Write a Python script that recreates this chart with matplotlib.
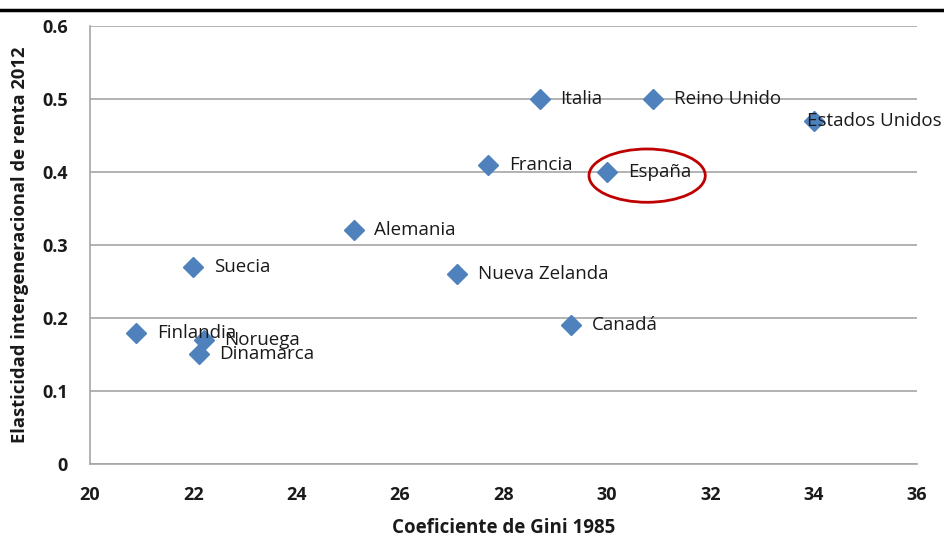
import matplotlib.pyplot as plt
from matplotlib.patches import Ellipse
from matplotlib.lines import Line2D

# Datos: coeficiente de Gini 1985 vs elasticidad intergeneracional de renta 2012
countries = ["Finlandia", "Noruega", "Dinamarca", "Suecia", "Alemania",
             "Nueva Zelanda", "Francia", "Italia", "Reino Unido", "España",
             "Canadá", "Estados Unidos"]
gini_1985 = [20.9, 22.2, 22.1, 22.0, 25.1, 27.1, 27.7, 28.7, 30.9, 30.0, 29.3, 34.0]
elasticity = [0.18, 0.17, 0.15, 0.27, 0.32, 0.26, 0.41, 0.50, 0.50, 0.40, 0.19, 0.47]

x_ticks = [20, 22, 24, 26, 28, 30, 32, 34, 36]
y_ticks = [0, 0.1, 0.2, 0.3, 0.4, 0.5, 0.6]
y_tick_labels = ["0", "0.1", "0.2", "0.3", "0.4", "0.5", "0.6"]

plt.rcParams['font.family'] = ['Open Sans', 'DejaVu Sans']

fig = plt.figure(figsize=(9.45, 5.37), dpi=100)
ax = fig.add_axes([0.0952, 0.136, 0.8751, 0.8156])

grid_color = "#A6A6A6"
text_color = "#1a1a1a"
ax.set_xlim(20, 36)
ax.set_ylim(0, 0.6)
ax.set_xticks(x_ticks)
ax.set_yticks(y_ticks)
ax.set_yticklabels(y_tick_labels)
ax.yaxis.grid(True, color=grid_color, linewidth=1.2)
ax.set_axisbelow(True)
ax.tick_params(length=0, labelsize=13, labelcolor=text_color)
ax.tick_params(axis="y", pad=16)
ax.tick_params(axis="x", pad=16)
for lbl in ax.get_xticklabels() + ax.get_yticklabels():
    lbl.set_fontweight("bold")
ax.spines["top"].set_visible(False)
ax.spines["right"].set_visible(False)
ax.spines["left"].set_color(grid_color)
ax.spines["bottom"].set_color(grid_color)
ax.spines["left"].set_linewidth(1.2)
ax.spines["bottom"].set_linewidth(1.2)

ax.plot(gini_1985, elasticity, "D", color="#4F81BD", markersize=10.5,
        linestyle="none", clip_on=False, zorder=3)

for name, x, y in zip(countries, gini_1985, elasticity):
    dx = -5 if name == "Estados Unidos" else 15
    ax.annotate(name, (x, y), xytext=(dx, 0), textcoords="offset points",
                va="center", ha="left", fontsize=13.5, color=text_color,
                annotation_clip=False, zorder=4)

# Círculo rojo alrededor de España
ax.add_patch(Ellipse((30.78, 0.395), 2.25, 0.073, fill=False,
                     edgecolor="#C00000", linewidth=2, zorder=5))

ax.set_xlabel("Coeficiente de Gini 1985", fontsize=13.5, fontweight="bold",
              color=text_color, labelpad=10)
ax.set_ylabel("Elasticidad intergeneracional de renta 2012", fontsize=13.2,
              fontweight="bold", color=text_color, labelpad=9)

# Línea negra superior
fig.add_artist(Line2D([0, 1], [0.981, 0.981], transform=fig.transFigure,
                      color="black", linewidth=2.5))

fig.savefig("out.png", dpi=100)
